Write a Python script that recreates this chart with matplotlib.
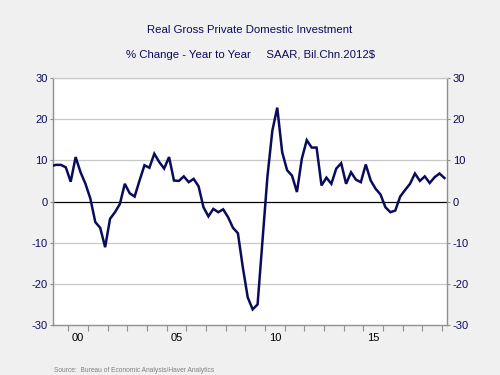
import matplotlib
matplotlib.use("Agg")
import matplotlib.pyplot as plt
import numpy as np

plt.rcParams['font.family'] = ['Liberation Sans', 'DejaVu Sans']
plt.rcParams['axes.unicode_minus'] = False

start_year = 1999
values = [
    8.6, 8.9, 8.9, 8.3,      # 1999
    4.8, 10.8, 7.1, 4.3,     # 2000
    0.7, -5.0, -6.4, -11.1,  # 2001
    -4.2, -2.6, -0.6, 4.3,   # 2002
    2.0, 1.2, 5.1, 8.8,      # 2003
    8.2, 11.6, 9.6, 8.0,     # 2004
    10.8, 5.1, 5.0, 6.1,     # 2005
    4.7, 5.5, 3.7, -1.4,     # 2006
    -3.6, -1.8, -2.6, -1.9,  # 2007
    -3.8, -6.4, -7.7, -16.0, # 2008
    -23.3, -26.2, -25.0, -9.5,  # 2009
    6.0, 17.2, 22.8, 12.0,   # 2010
    7.6, 6.3, 2.3, 10.4,     # 2011
    14.9, 13.1, 13.1, 3.9,   # 2012
    5.8, 4.3, 8.0, 9.3,      # 2013
    4.3, 7.1, 5.3, 4.7,      # 2014
    9.0, 5.1, 3.1, 1.7,      # 2015
    -1.4, -2.6, -2.2, 1.2,   # 2016
    2.8, 4.3, 6.8, 5.0,      # 2017
    6.1, 4.5, 5.9, 6.8,      # 2018
    5.7,                     # 2019
]
year_ticks = list(range(2000, 2020))
label_years = [2000, 2005, 2010, 2015]
label_text = ['00', '05', '10', '15']
y_ticks = [-30, -20, -10, 0, 10, 20, 30]

navy = '#0b0b5c'
t = start_year + (np.arange(len(values)) + 0.5) / 4.0

fig = plt.figure(figsize=(5, 3.75), dpi=100, facecolor='#f0f0f0')
ax = fig.add_axes([0.1066, 0.1333, 0.788, 0.6587])
ax.set_facecolor('white')

for yv in y_ticks:
    if yv == 0:
        ax.axhline(yv, color='black', lw=0.9, zorder=2)
    elif yv != -30:
        ax.axhline(yv, color='#c8c8c8', lw=0.9, zorder=1)

ax.plot(t, values, color=navy, lw=1.8, zorder=3, solid_joinstyle='miter')

ax.set_xlim(1999.24, 2019.27)
ax.set_ylim(-30, 30)

ax.set_xticks(year_ticks)
ax.set_xticklabels([])
ax.tick_params(axis='x', which='major', length=4, direction='out', color='#909090')
ax.set_xticks([y + 0.5 for y in label_years], minor=True)
ax.set_xticklabels(label_text, minor=True)
ax.tick_params(axis='x', which='minor', length=0, pad=6, labelsize=8, labelcolor='black')

ax.set_yticks(y_ticks)
ax.tick_params(axis='y', which='both', length=2, direction='out', color='#909090',
               labelsize=8, labelcolor=navy, left=True, right=True,
               labelleft=True, labelright=True, pad=2)

for s in ['left', 'right', 'bottom']:
    ax.spines[s].set_color('#909090')
    ax.spines[s].set_linewidth(1.0)
ax.spines['top'].set_color('#c8c8c8')
ax.spines['top'].set_linewidth(0.9)

fig.text(0.5, 0.92, 'Real Gross Private Domestic Investment', ha='center', va='center',
         fontsize=8.2, color=navy)
fig.text(0.5, 0.853, '% Change - Year to Year     SAAR, Bil.Chn.2012$', ha='center', va='center',
         fontsize=8.2, color=navy)
fig.text(0.107, 0.011, 'Source:  Bureau of Economic Analysis/Haver Analytics', ha='left', va='center',
         fontsize=4.75, color='#808080')

fig.savefig('out.png', dpi=100, facecolor=fig.get_facecolor())
